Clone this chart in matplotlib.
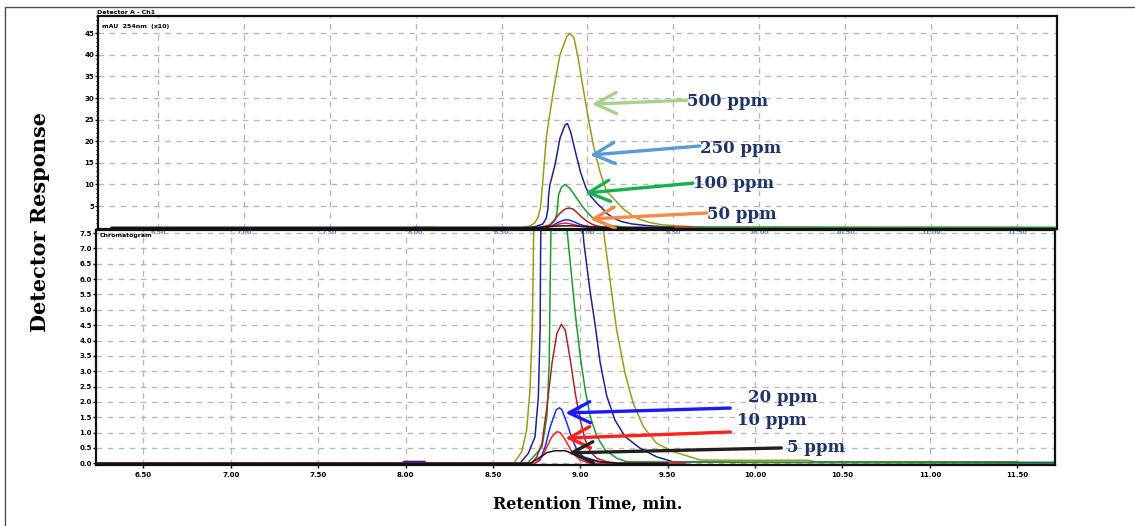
import matplotlib
matplotlib.use("Agg")
import matplotlib.pyplot as plt
from matplotlib.patches import Rectangle

# Chromatogram traces (retention time in min, detector response)
# one pair of lists per standard
t_500 = [6.23, 8.62, 8.665, 8.693, 8.712, 8.725, 8.731, 8.762, 8.801, 8.840, 8.879, 8.898, 8.921,
         8.946, 8.975, 9.005, 9.034, 9.073, 9.112, 9.132, 9.170, 9.208, 9.256, 9.303, 9.361, 9.437,
         9.532, 9.685, 9.85, 10.3, 10.35, 11.5, 11.52, 11.72]
r_500 = [0, 0, 0.38, 1.08, 2.39, 4.34, 6.52, 21.4, 31.5, 40.0, 44.2, 45.0, 44.0,
         39.2, 32.2, 25.3, 19.1, 12.9, 8.3, 7.6, 5.97, 4.34, 2.93, 1.95, 1.19, 0.65,
         0.38, 0.11, 0.1, 0.1, 0.05, 0.05, 0, 0]

t_250 = [6.23, 7.98, 7.99, 8.11, 8.12, 8.655, 8.703, 8.741, 8.760, 8.770, 8.773, 8.781, 8.811,
         8.840, 8.869, 8.883, 8.902, 8.930, 8.960, 8.990, 9.020, 9.056, 9.085, 9.113, 9.151,
         9.198, 9.256, 9.342, 9.437, 9.532, 9.9, 11.72]
r_250 = [0, 0, 0.06, 0.06, 0, 0, 0.33, 0.87, 2.17, 4.34, 7.06, 9.86, 14.5,
         20.7, 23.75, 24.1, 22.2, 17.5, 12.8, 9.3, 7.2, 5.6, 4.5, 3.3, 2.2,
         1.41, 0.87, 0.49, 0.21, 0.05, 0.03, 0.03]

t_100 = [6.23, 8.695, 8.732, 8.781, 8.809, 8.822, 8.828, 8.832, 8.848, 8.869, 8.898, 8.924,
         8.943, 8.971, 9.000, 9.028, 9.057, 9.095, 9.143, 9.210, 9.267, 11.72]
r_100 = [0, 0, 0.21, 0.54, 1.52, 3.26, 5.97, 7.6, 9.3, 10.0, 9.1, 7.6,
         6.51, 4.89, 3.47, 2.39, 1.52, 0.87, 0.43, 0.16, 0.05, 0]

t_50 = [6.23, 8.722, 8.751, 8.781, 8.809, 8.838, 8.866, 8.891, 8.914, 8.943, 8.971, 9.000,
        9.028, 9.057, 9.095, 9.152, 9.229, 9.6]
r_50 = [0, 0, 0.21, 0.65, 1.84, 3.26, 4.23, 4.53, 4.34, 3.36, 2.28, 1.41,
        0.76, 0.38, 0.16, 0.05, 0, 0]

t_20 = [6.23, 8.741, 8.770, 8.799, 8.828, 8.862, 8.881, 8.895, 8.924, 8.952, 8.981, 9.018,
        9.076, 9.133, 9.6]
r_20 = [0, 0, 0.11, 0.54, 1.19, 1.74, 1.81, 1.74, 1.30, 0.81, 0.43, 0.21,
        0.11, 0, 0]

t_10 = [6.23, 8.741, 8.781, 8.809, 8.838, 8.866, 8.885, 8.914, 8.952, 8.998, 9.056, 9.6]
r_10 = [0, 0, 0.21, 0.54, 0.87, 1.03, 1.00, 0.76, 0.38, 0.11, 0, 0]

t_5 = [6.23, 8.712, 8.760, 8.809, 8.856, 8.914, 8.962, 9.018, 9.113, 9.208, 9.5]
r_5 = [0, 0, 0.16, 0.35, 0.41, 0.41, 0.30, 0.16, 0.05, 0, 0]

x_ticks = [6.5, 7.0, 7.5, 8.0, 8.5, 9.0, 9.5, 10.0, 10.5, 11.0, 11.5]
top_yticks = [5, 10, 15, 20, 25, 30, 35, 40, 45]
low_yticks = [0.0, 0.5, 1.0, 1.5, 2.0, 2.5, 3.0, 3.5, 4.0, 4.5, 5.0, 5.5, 6.0, 6.5, 7.0, 7.5]

traces = [
    (t_500, r_500, "#9c9a1c"),
    (t_250, r_250, "#22228f"),
    (t_100, r_100, "#1f9a2a"),
    (t_50, r_50, "#a3282c"),
    (t_20, r_20, "#1a2cff"),
    (t_10, r_10, "#ff2222"),
    (t_5, r_5, "#151515"),
]

serif = "DejaVu Serif"
navy = "#1f3466"

fig = plt.figure(figsize=(11.35, 5.26), dpi=100)

# frame around the whole picture
fig.patches.append(Rectangle((5 / 1135, -0.05), 1.2, 1.05 - 7 / 526, transform=fig.transFigure,
                             fill=False, lw=1.0, ec="#505050"))

ax_top = fig.add_axes([98.3 / 1135, 1 - 228.5 / 526, 958.4 / 1135, 212.5 / 526])
ax_low = fig.add_axes([96 / 1135, 1 - 465 / 526, 959 / 1135, 235 / 526])
ax_low.set_facecolor("none")

for ax in (ax_top, ax_low):
    for t, r, c in traces:
        ax.plot(t, r, color=c, lw=1.1)
    ax.set_xticks(x_ticks)
    ax.xaxis.set_major_formatter(plt.FormatStrFormatter("%.2f"))
    ax.grid(True, color="#b8b8b8", ls=(0, (4, 4)), lw=1.0)
    for s in ax.spines.values():
        s.set_linewidth(1.6)
        s.set_color("#111111")
    ax.tick_params(labelsize=5, length=2, width=1, pad=1)
    for lab in ax.get_xticklabels() + ax.get_yticklabels():
        lab.set_fontweight("bold")

ax_top.set_xlim(6.153, 11.731)
ax_top.set_ylim(-0.2, 49.0)
ax_top.set_yticks(top_yticks)
ax_top.yaxis.set_major_formatter(plt.FormatStrFormatter("%d"))
ax_top.minorticks_on()
ax_top.tick_params(which="minor", length=1.5, width=0.8)
ax_top.tick_params(axis="x", which="minor", length=0)
ax_top.tick_params(axis="x", colors="#6b7fa8", labelsize=4.5, length=0)

ax_low.set_xlim(6.229, 11.716)
ax_low.set_ylim(-0.055, 7.6)
ax_low.set_yticks(low_yticks)
ax_low.yaxis.set_major_formatter(plt.FormatStrFormatter("%.1f"))
ax_low.tick_params(axis="x", pad=3)

# small header texts
fig.text(97 / 1135, 1 - 12 / 526, "Detector A - Ch1", fontsize=4.5, fontweight="bold", va="center")
ax_top.text(0.004, 0.95, "mAU  254nm  (x10)", transform=ax_top.transAxes, fontsize=4.5,
            fontweight="bold", va="center")
ax_low.text(0.004, 0.975, "Chromatogram", transform=ax_low.transAxes, fontsize=4.5,
            fontweight="bold", va="center")

# arrows and labels, upper panel
top_notes = [
    ("500 ppm", (9.024, 28.6), (9.577, 29.5), (9.579, 29.1), "#a9d18e"),
    ("250 ppm", (9.014, 16.8), (9.654, 18.9), (9.655, 18.4), "#5b9bd5"),
    ("100 ppm", (8.985, 8.0), (9.614, 10.3), (9.614, 10.3), "#16b050"),
    ("50 ppm", (9.014, 2.0), (9.695, 3.4), (9.696, 3.15), "#f58a46"),
]
# and lower panel
low_notes = [
    ("20 ppm", (8.914, 1.64), (9.858, 1.80), (9.961, 2.16), "#1a1aff"),
    ("10 ppm", (8.914, 0.82), (9.858, 1.02), (9.898, 1.38), "#ff2020"),
    ("5 ppm", (8.931, 0.34), (10.150, 0.50), (10.184, 0.50), "#202020"),
]
for ax, notes in ((ax_top, top_notes), (ax_low, low_notes)):
    for label, tip, tail, pos, col in notes:
        ax.annotate("", xy=tip, xytext=tail,
                    arrowprops=dict(arrowstyle="->", color=col, lw=2.4, mutation_scale=38,
                                    shrinkA=0, shrinkB=0))
        ax.text(pos[0], pos[1], label, color=navy, fontsize=12, fontweight="bold",
                family=serif, va="center", ha="left")

fig.text(40 / 1135, 1 - 222 / 526, "Detector Response", rotation=90, fontsize=15,
         fontweight="bold", family=serif, ha="center", va="center")
fig.text(588 / 1135, 1 - 504 / 526, "Retention Time, min.", fontsize=11.5,
         fontweight="bold", family=serif, ha="center", va="center")

fig.savefig("out.png", dpi=100)
